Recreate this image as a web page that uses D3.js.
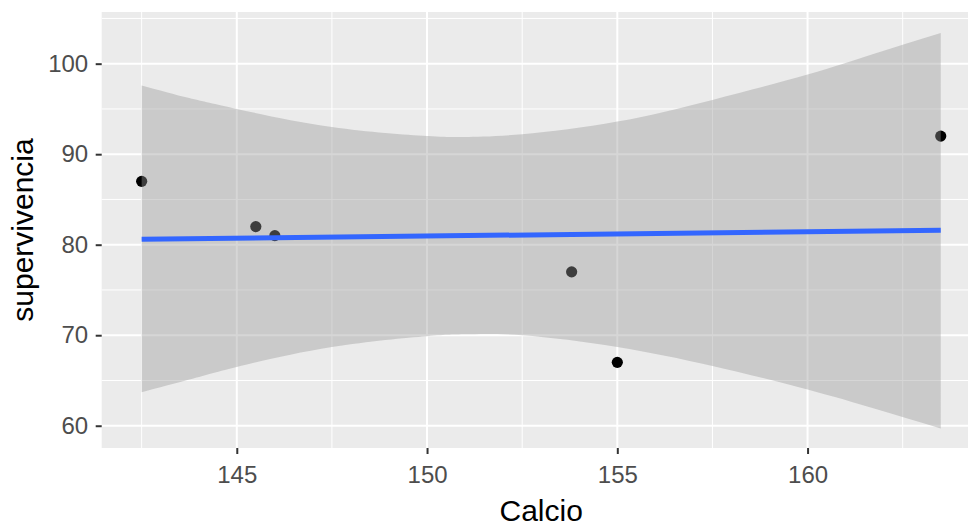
<!DOCTYPE html>
<html>
<head>
<meta charset="utf-8">
<script src="https://cdn.jsdelivr.net/npm/d3@7"></script>
<style>
  body { margin: 0; background: #fff; }
  text { font-family: "Liberation Sans", Arial, sans-serif; }
</style>
</head>
<body>
<div class="container"></div>
<script>
const WIDTH = 968;
const HEIGHT = 526;

// panel box (right edge runs past the picture, as in the original)
const LEFT = 101.7;
const RIGHT = 980.7;
const TOP = 12;
const BOTTOM = 448;

// observed points
const calcio = [142.5, 145.5, 146, 153.8, 155, 163.5];
const supervivencia = [87, 82, 81, 77, 67, 92];

// smooth band
const bandX = [142.5, 143.75, 145, 147.5, 150, 151, 152.5, 155, 157.5, 160, 161.75, 163.5];
const bandLow = [63.7, 65.1, 66.5, 68.7, 69.9, 70.1, 70.0, 68.7, 66.6, 64.0, 61.9, 59.7];
const bandHigh = [97.6, 96.2, 95.0, 93.0, 92.0, 91.9, 92.2, 93.6, 96.0, 98.8, 101.1, 103.4];

// fitted line
const fitX = [142.5, 163.5];
const fitY = [80.6, 81.6];

const xTicks = [145, 150, 155, 160];
const xMinor = [142.5, 147.5, 152.5, 157.5, 162.5];
const yTicks = [60, 70, 80, 90, 100];
const yMinor = [65, 75, 85, 95, 105];

const svg = d3.select('.container').append('svg')
  .attr('width', WIDTH)
  .attr('height', HEIGHT);

const x = d3.scaleLinear().domain([141.45, 164.55]).range([LEFT, RIGHT]);
const y = d3.scaleLinear().domain([57.54, 105.71]).range([BOTTOM, TOP]);

svg.append('rect')
  .attr('x', LEFT).attr('y', TOP)
  .attr('width', RIGHT - LEFT).attr('height', BOTTOM - TOP)
  .attr('fill', '#EBEBEB');

// grid
const grid = svg.append('g');
grid.selectAll('.xminor').data(xMinor).enter().append('line')
  .attr('x1', d => x(d)).attr('x2', d => x(d))
  .attr('y1', TOP).attr('y2', BOTTOM)
  .attr('stroke', '#fff').attr('stroke-width', 1);
grid.selectAll('.yminor').data(yMinor).enter().append('line')
  .attr('x1', LEFT).attr('x2', RIGHT)
  .attr('y1', d => y(d)).attr('y2', d => y(d))
  .attr('stroke', '#fff').attr('stroke-width', 1);
grid.selectAll('.xmajor').data(xTicks).enter().append('line')
  .attr('x1', d => x(d)).attr('x2', d => x(d))
  .attr('y1', TOP).attr('y2', BOTTOM)
  .attr('stroke', '#fff').attr('stroke-width', 2);
grid.selectAll('.ymajor').data(yTicks).enter().append('line')
  .attr('x1', LEFT).attr('x2', RIGHT)
  .attr('y1', d => y(d)).attr('y2', d => y(d))
  .attr('stroke', '#fff').attr('stroke-width', 2);

// points first, band drawn over them
const pts = calcio.map((c, i) => ({x: c, y: supervivencia[i]}));
svg.append('g').selectAll('circle')
  .data(pts)
  .enter().append('circle')
  .attr('cx', d => x(d.x))
  .attr('cy', d => y(d.y))
  .attr('r', 5.6)
  .attr('fill', '#000');

const band = bandX.map((b, i) => ({x: b, lo: bandLow[i], hi: bandHigh[i]}));
const area = d3.area()
  .curve(d3.curveNatural)
  .x(d => x(d.x))
  .y0(d => y(d.lo))
  .y1(d => y(d.hi));
svg.append('path')
  .attr('d', area(band))
  .attr('fill', '#999999')
  .attr('fill-opacity', 0.4);

const line = d3.line().x(d => x(d[0])).y(d => y(d[1]));
svg.append('path')
  .attr('d', line(fitX.map((f, i) => [f, fitY[i]])))
  .attr('fill', 'none')
  .attr('stroke', '#3366FF')
  .attr('stroke-width', 5);

// axes
const xAxis = svg.append('g')
  .attr('transform', 'translate(0,' + BOTTOM + ')')
  .call(d3.axisBottom(x).tickValues(xTicks).tickSize(6).tickPadding(12));
const yAxis = svg.append('g')
  .attr('transform', 'translate(' + LEFT + ',0)')
  .call(d3.axisLeft(y).tickValues(yTicks).tickSize(6).tickPadding(7.5));

[xAxis, yAxis].forEach(function (g) {
  g.select('.domain').remove();
  g.selectAll('line').attr('stroke', '#333333').attr('stroke-width', 2);
  g.selectAll('text')
    .attr('fill', '#4D4D4D')
    .style('font-size', '24px')
    .style('font-family', '"Liberation Sans", Arial, sans-serif');
});

svg.append('text')
  .attr('x', (LEFT + RIGHT) / 2)
  .attr('y', 521)
  .attr('text-anchor', 'middle')
  .style('font-size', '30px')
  .attr('fill', '#000')
  .text('Calcio');

svg.append('text')
  .attr('transform', 'translate(33,' + (TOP + BOTTOM) / 2 + ') rotate(-90)')
  .attr('text-anchor', 'middle')
  .style('font-size', '30px')
  .attr('fill', '#000')
  .text('supervivencia');
</script>
</body>
</html>
